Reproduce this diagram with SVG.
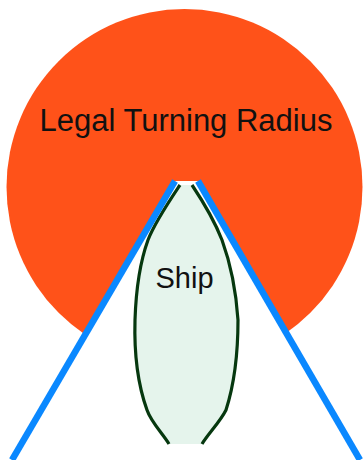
<svg xmlns="http://www.w3.org/2000/svg" width="363" height="460" viewBox="0 0 363 460">
<style>
.lbl{font-family:"Liberation Sans",Arial,sans-serif;fill:#111}
.side{fill:none;stroke:#0a88ff;stroke-width:6.5;stroke-linecap:butt}
</style>
<rect width="363" height="460" fill="#fff"/>
<g id="radius">
<circle cx="184.5" cy="187" r="178" fill="#ff5219"/>
<polygon points="175,181 198,181 362,460 12,460" fill="#fff"/>
<text class="lbl" x="186" y="131" font-size="31" text-anchor="middle">Legal Turning Radius</text>
</g>
<g id="ship">
<path d="M180,185 L192,185 C202,200 215,222 222,240 C230,262 236,290 238,320 C238,355 234,385 226,410 C220,422 208,434 202,444 L169,444 C163,434 151,422 147,410 C138,385 134,355 135,320 C136,290 140,262 148,240 C155,222 170,200 180,185 Z" fill="#e5f4ec"/>
<path d="M180,185 C170,200 155,222 148,240 C140,262 136,290 135,320 C134,355 138,385 147,410 C151,422 163,434 169,444 M192,185 C202,200 215,222 222,240 C230,262 236,290 238,320 C238,355 234,385 226,410 C220,422 208,434 202,444" fill="none" stroke="#06380f" stroke-width="3.2"/>
<text class="lbl" x="184.5" y="288" font-size="29" text-anchor="middle" fill="#222">Ship</text>
</g>
<g id="connectors">
<line class="side" x1="175" y1="181" x2="12" y2="460"/>
<line class="side" x1="198" y1="181" x2="360" y2="460"/>
</g>
</svg>
